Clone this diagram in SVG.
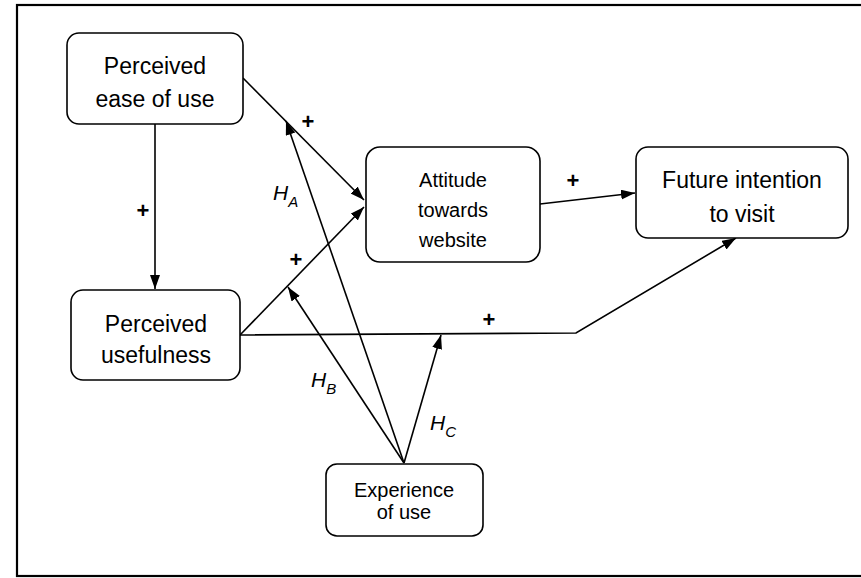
<svg xmlns="http://www.w3.org/2000/svg" width="861" height="578" viewBox="0 0 861 578">
<style>
.box{fill:#fff;stroke:#000;stroke-width:1.6}
.t{font-family:"Liberation Sans",Arial,sans-serif;fill:#000;text-anchor:middle}
.big{font-size:23px}
.mid{font-size:20px}
.ln{fill:none;stroke:#000;stroke-width:1.6}
.plus{font-family:"Liberation Sans",Arial,sans-serif;font-size:22px;font-weight:bold;text-anchor:middle}
.h{font-family:"Liberation Sans",Arial,sans-serif;font-size:21px;font-style:italic}
.sub{font-size:15px}
</style>
<defs>
<marker id="ah" markerUnits="userSpaceOnUse" markerWidth="15" markerHeight="11" refX="14" refY="5" orient="auto">
<path d="M0,0 L14,5 L0,10 z" fill="#000"/>
</marker>
</defs>
<rect x="17" y="5" width="850" height="571" fill="none" stroke="#000" stroke-width="2.2"/>
<g id="connectors">
<line class="ln" x1="155" y1="124" x2="155" y2="289" marker-end="url(#ah)"/>
<line class="ln" x1="243" y1="78" x2="364" y2="200" marker-end="url(#ah)"/>
<line class="ln" x1="240" y1="335" x2="364" y2="207" marker-end="url(#ah)"/>
<polyline class="ln" points="240,335 576,333 736,238" marker-end="url(#ah)"/>
<line class="ln" x1="540" y1="204" x2="635" y2="193" marker-end="url(#ah)"/>
<line class="ln" x1="404" y1="463" x2="286" y2="121" marker-end="url(#ah)"/>
<line class="ln" x1="404" y1="463" x2="288" y2="287" marker-end="url(#ah)"/>
<line class="ln" x1="404" y1="463" x2="441" y2="335" marker-end="url(#ah)"/>
<text class="plus" x="143" y="218">+</text>
<text class="plus" x="308" y="129">+</text>
<text class="plus" x="296" y="267">+</text>
<text class="plus" x="489" y="327">+</text>
<text class="plus" x="573" y="188">+</text>
<text class="h" x="273" y="200">H<tspan class="sub" dy="7">A</tspan></text>
<text class="h" x="311" y="387">H<tspan class="sub" dy="7">B</tspan></text>
<text class="h" x="430" y="430">H<tspan class="sub" dy="7">C</tspan></text>
</g>
<g id="peou">
<rect class="box" x="67" y="33" width="176" height="91" rx="12"/>
<text class="t big" x="155" y="74">Perceived</text>
<text class="t big" x="155" y="107">ease of use</text>
</g>
<g id="attitude">
<rect class="box" x="366" y="147" width="174" height="115" rx="14"/>
<text class="t mid" x="453" y="187">Attitude</text>
<text class="t mid" x="453" y="217">towards</text>
<text class="t mid" x="453" y="247">website</text>
</g>
<g id="future">
<rect class="box" x="636" y="147" width="212" height="91" rx="12"/>
<text class="t big" x="742" y="188">Future intention</text>
<text class="t big" x="742" y="222">to visit</text>
</g>
<g id="pu">
<rect class="box" x="71" y="290" width="169" height="90" rx="12"/>
<text class="t big" x="156" y="332">Perceived</text>
<text class="t big" x="156" y="363">usefulness</text>
</g>
<g id="experience">
<rect class="box" x="326" y="464" width="157" height="72" rx="11"/>
<text class="t mid" x="404" y="497">Experience</text>
<text class="t mid" x="404" y="519">of use</text>
</g>
</svg>
